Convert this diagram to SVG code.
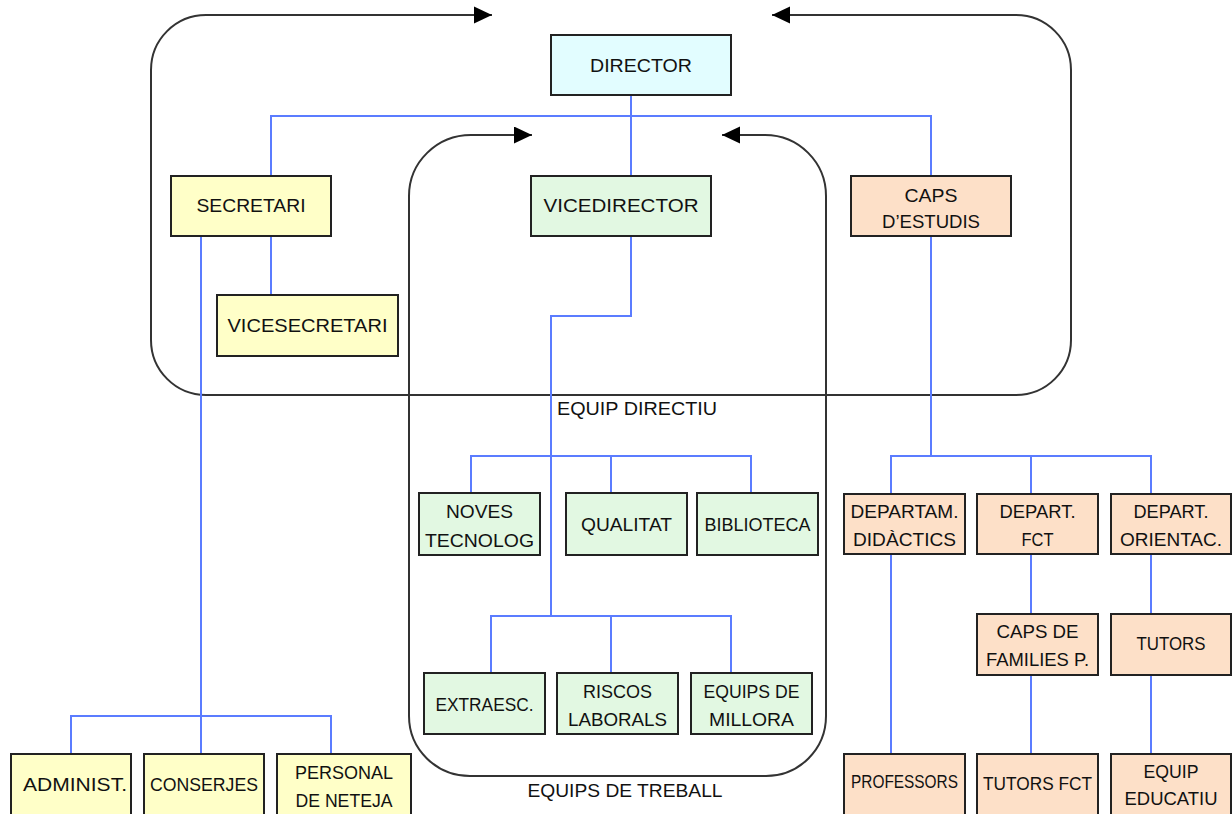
<svg xmlns="http://www.w3.org/2000/svg" width="1232" height="814" viewBox="0 0 1232 814">
<style>
.bg{fill:#ffffff}
.box{stroke:#222222;stroke-width:2}
.cy{fill:#e2fdff}
.ye{fill:#ffffc8}
.gr{fill:#e2f8e2}
.pe{fill:#fde0c8}
text{font-family:"Liberation Sans",Arial,sans-serif;font-size:19px;fill:#111111;text-anchor:middle}
.loop{fill:none;stroke:#333333;stroke-width:2;marker-start:url(#ah);marker-end:url(#ah)}
.con{fill:none;stroke:#5b7cff;stroke-width:2}
</style>
<defs>
<marker id="ah" markerUnits="userSpaceOnUse" markerWidth="20" markerHeight="18" refX="18" refY="8.5" orient="auto-start-reverse">
<path d="M0,0 L18,8.5 L0,17 Z" fill="#000000"/>
</marker>
</defs>
<rect class="bg" x="0" y="0" width="1232" height="814"/>
<g id="loops">
<path class="loop" d="M772,15 H1016 A55,55 0 0 1 1071,70 V340 A55,55 0 0 1 1016,395 H206 A55,55 0 0 1 151,340 V70 A55,55 0 0 1 206,15 H492"/>
<path class="loop" d="M722,135 H765 A61,61 0 0 1 826,196 V716 A60,60 0 0 1 766,776 H470 A61,60 0 0 1 409,716 V196 A62,61 0 0 1 471,135 H532"/>
<text x="637" y="415" textLength="160" lengthAdjust="spacingAndGlyphs">EQUIP DIRECTIU</text>
<text x="625" y="797" textLength="195" lengthAdjust="spacingAndGlyphs">EQUIPS DE TREBALL</text>
</g>
<g id="connectors">
<path class="con" d="M631,95 V176"/>
<path class="con" d="M271,176 V116 H931 V176"/>
<path class="con" d="M271,236 V295"/>
<path class="con" d="M201,236 V754"/>
<path class="con" d="M71,754 V716 H331 V754"/>
<path class="con" d="M631,236 V316 H551 V616"/>
<path class="con" d="M471,493 V456 H751 V493 M611,456 V493"/>
<path class="con" d="M491,673 V616 H731 V673 M611,616 V673"/>
<path class="con" d="M931,236 V456"/>
<path class="con" d="M891,494 V456 H1151 V494 M1031,456 V494"/>
<path class="con" d="M891,554 V754"/>
<path class="con" d="M1031,554 V614 M1031,675 V754"/>
<path class="con" d="M1151,554 V614 M1151,675 V754"/>
</g>
<g id="director"><rect class="box cy" x="551" y="35" width="180" height="60"/><text x="641" y="72" textLength="102" lengthAdjust="spacingAndGlyphs">DIRECTOR</text></g>
<g id="secretari"><rect class="box ye" x="171" y="176" width="160" height="60"/><text x="251" y="212" textLength="109" lengthAdjust="spacingAndGlyphs">SECRETARI</text></g>
<g id="vicesecretari"><rect class="box ye" x="217" y="295" width="181" height="61"/><text x="307.5" y="332" textLength="160" lengthAdjust="spacingAndGlyphs">VICESECRETARI</text></g>
<g id="vicedirector"><rect class="box gr" x="531" y="176" width="180" height="60"/><text x="621" y="212" textLength="155" lengthAdjust="spacingAndGlyphs">VICEDIRECTOR</text></g>
<g id="caps-estudis"><rect class="box pe" x="851" y="176" width="160" height="60"/><text x="931" y="202" textLength="53" lengthAdjust="spacingAndGlyphs">CAPS</text><text x="931" y="228" textLength="98" lengthAdjust="spacingAndGlyphs">D’ESTUDIS</text></g>
<g id="noves-tecnolog"><rect class="box gr" x="419" y="493" width="121" height="62"/><text x="479.5" y="518" textLength="67" lengthAdjust="spacingAndGlyphs">NOVES</text><text x="479.5" y="547" textLength="109" lengthAdjust="spacingAndGlyphs">TECNOLOG</text></g>
<g id="qualitat"><rect class="box gr" x="566" y="493" width="121" height="62"/><text x="626.5" y="531" textLength="91" lengthAdjust="spacingAndGlyphs">QUALITAT</text></g>
<g id="biblioteca"><rect class="box gr" x="697" y="493" width="121" height="62"/><text x="757.5" y="531" textLength="106" lengthAdjust="spacingAndGlyphs">BIBLIOTECA</text></g>
<g id="extraesc"><rect class="box gr" x="424" y="673" width="121" height="61"/><text x="484.5" y="711" textLength="98" lengthAdjust="spacingAndGlyphs">EXTRAESC.</text></g>
<g id="riscos-laborals"><rect class="box gr" x="557" y="673" width="121" height="61"/><text x="617.5" y="698" textLength="69" lengthAdjust="spacingAndGlyphs">RISCOS</text><text x="617.5" y="726" textLength="99" lengthAdjust="spacingAndGlyphs">LABORALS</text></g>
<g id="equips-millora"><rect class="box gr" x="691" y="673" width="121" height="61"/><text x="751.5" y="698" textLength="96" lengthAdjust="spacingAndGlyphs">EQUIPS DE</text><text x="751.5" y="726" textLength="85" lengthAdjust="spacingAndGlyphs">MILLORA</text></g>
<g id="departam-didactics"><rect class="box pe" x="844" y="494" width="121" height="60"/><text x="904.5" y="518" textLength="108" lengthAdjust="spacingAndGlyphs">DEPARTAM.</text><text x="904.5" y="546" textLength="103" lengthAdjust="spacingAndGlyphs">DIDÀCTICS</text></g>
<g id="depart-fct"><rect class="box pe" x="977" y="494" width="121" height="60"/><text x="1037.5" y="518" textLength="76" lengthAdjust="spacingAndGlyphs">DEPART.</text><text x="1037.5" y="546" textLength="32" lengthAdjust="spacingAndGlyphs">FCT</text></g>
<g id="depart-orientac"><rect class="box pe" x="1111" y="494" width="120" height="60"/><text x="1171" y="518" textLength="75" lengthAdjust="spacingAndGlyphs">DEPART.</text><text x="1171" y="546" textLength="102" lengthAdjust="spacingAndGlyphs">ORIENTAC.</text></g>
<g id="caps-families"><rect class="box pe" x="977" y="614" width="121" height="61"/><text x="1037.5" y="638" textLength="82" lengthAdjust="spacingAndGlyphs">CAPS DE</text><text x="1037.5" y="666" textLength="103" lengthAdjust="spacingAndGlyphs">FAMILIES P.</text></g>
<g id="tutors"><rect class="box pe" x="1111" y="614" width="120" height="61"/><text x="1171" y="650" textLength="69" lengthAdjust="spacingAndGlyphs">TUTORS</text></g>
<g id="professors"><rect class="box pe" x="844" y="754" width="121" height="70"/><text x="904.5" y="788" textLength="107" lengthAdjust="spacingAndGlyphs">PROFESSORS</text></g>
<g id="tutors-fct"><rect class="box pe" x="977" y="754" width="121" height="70"/><text x="1037.5" y="790" textLength="109" lengthAdjust="spacingAndGlyphs">TUTORS FCT</text></g>
<g id="equip-educatiu"><rect class="box pe" x="1111" y="754" width="120" height="70"/><text x="1171" y="778" textLength="55" lengthAdjust="spacingAndGlyphs">EQUIP</text><text x="1171" y="805" textLength="93" lengthAdjust="spacingAndGlyphs">EDUCATIU</text></g>
<g id="administ"><rect class="box ye" x="11" y="754" width="120" height="70"/><text x="75" y="791" textLength="104" lengthAdjust="spacingAndGlyphs">ADMINIST.</text></g>
<g id="conserjes"><rect class="box ye" x="144" y="754" width="120" height="70"/><text x="204" y="791" textLength="108" lengthAdjust="spacingAndGlyphs">CONSERJES</text></g>
<g id="personal-neteja"><rect class="box ye" x="277" y="754" width="134" height="70"/><text x="344" y="779" textLength="98" lengthAdjust="spacingAndGlyphs">PERSONAL</text><text x="344" y="807" textLength="97" lengthAdjust="spacingAndGlyphs">DE NETEJA</text></g>
</svg>
